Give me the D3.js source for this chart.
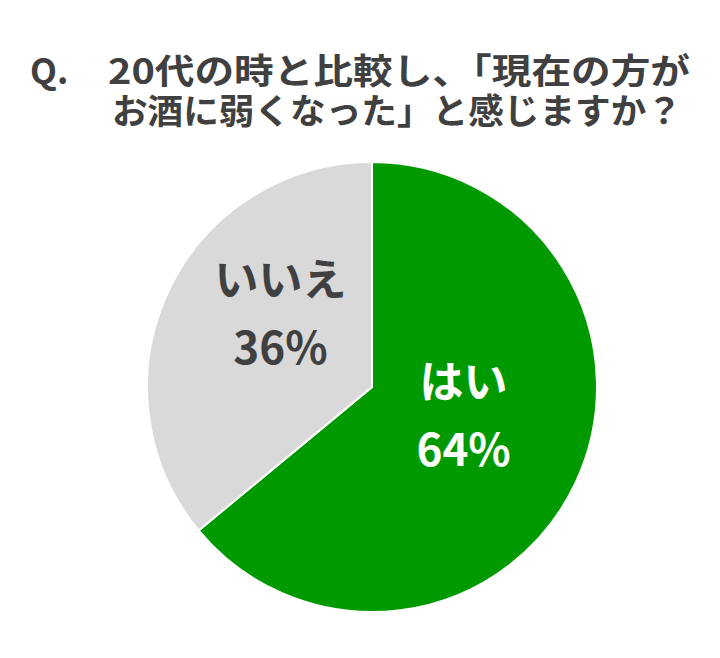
<!DOCTYPE html>
<html><head><meta charset="utf-8">
<script src="https://cdn.jsdelivr.net/npm/d3@7"></script>
<style>body{margin:0;background:#fff}</style></head>
<body><svg id="c" width="720" height="658"></svg>
<script>
const categories = ["はい", "いいえ"];
const values = [64, 36];
const colors = ["#009a00", "#d9d9d9"];
const labelColors = ["#ffffff", "#404040"];
const titleLines = ["20代の時と比較し、「現在の方が", "お酒に弱くなった」と感じますか？"];

const svg = d3.select("#c");
const font = "'Noto Sans CJK JP', sans-serif";
svg.append("text").attr("x", 30).attr("y", 84).attr("font-family", font).attr("font-weight", "bold")
  .attr("font-size", 35).attr("fill", "#404040").text("Q.");
const tl = [[108, 84, 582], [112, 124, 570]];
titleLines.forEach((t, i) => svg.append("text").attr("x", tl[i][0]).attr("y", tl[i][1])
  .attr("textLength", tl[i][2]).attr("lengthAdjust", "spacingAndGlyphs")
  .attr("font-family", font).attr("font-weight", "bold").attr("font-size", 35).attr("fill", "#404040").text(t));

const cx = 372, cy = 387, r = 225;
const pie = d3.pie().sort(null)(values);
const arc = d3.arc().innerRadius(0).outerRadius(r);
const g = svg.append("g").attr("transform", `translate(${cx},${cy})`);
g.selectAll("path").data(pie).join("path").attr("d", arc)
  .attr("fill", (d, i) => colors[i]).attr("stroke", "#fff").attr("stroke-width", 2);

const la = d3.arc().innerRadius(r * 0.45).outerRadius(r * 0.45);
const dy = [-32, -48];
pie.forEach((d, i) => {
  const [x, y] = la.centroid(d);
  const t = g.append("text").attr("text-anchor", "middle").attr("font-family", font)
    .attr("font-weight", "bold").attr("font-size", 44).attr("fill", labelColors[i]);
  t.append("tspan").attr("x", x).attr("y", y + dy[i]).text(categories[i]);
  t.append("tspan").attr("x", x).attr("y", y + dy[i] + 68).text(values[i] + "%");
});
</script></body></html>
